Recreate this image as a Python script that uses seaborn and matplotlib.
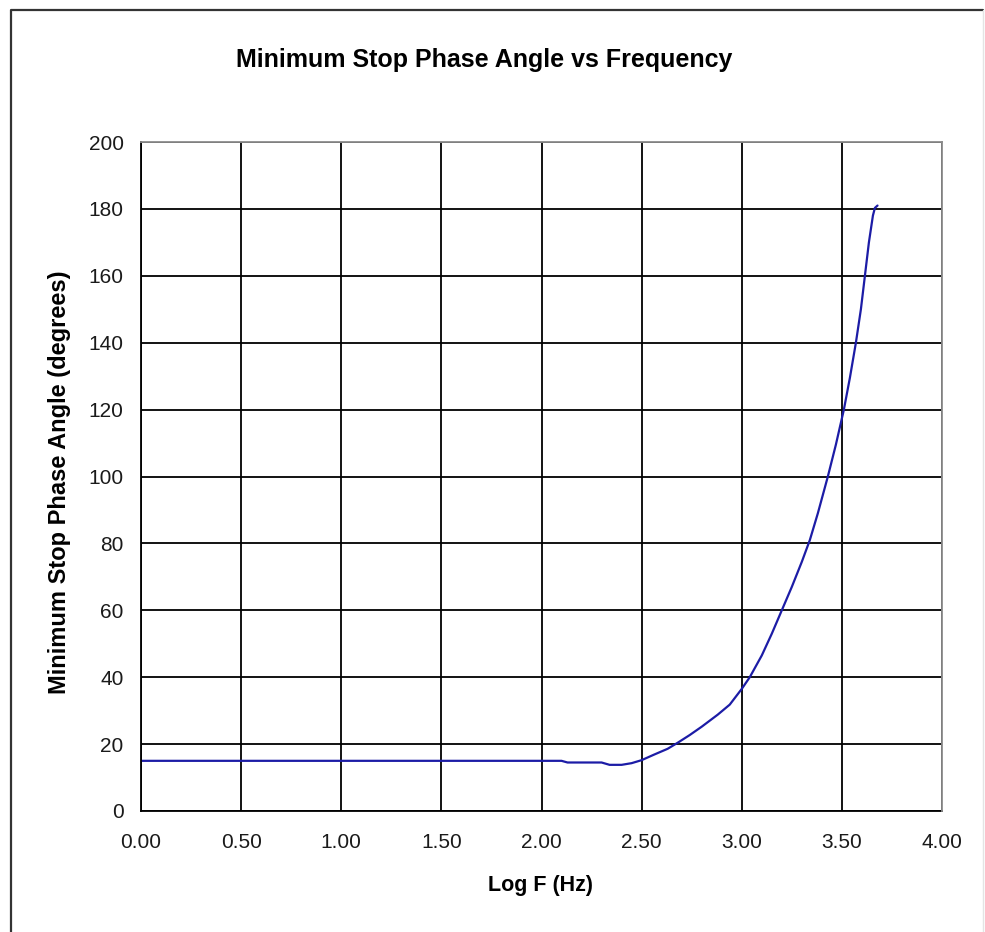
import matplotlib
matplotlib.use("Agg")
import matplotlib.pyplot as plt
from matplotlib.lines import Line2D
import seaborn as sns
import pandas as pd

# Log10 of frequency (Hz) and the minimum stop phase angle (degrees)
log_f = [0.00, 0.50, 1.00, 1.50, 2.00, 2.10, 2.13, 2.30, 2.34, 2.40, 2.45,
         2.50, 2.56, 2.63, 2.68, 2.74, 2.80, 2.88, 2.94, 3.00, 3.04, 3.10,
         3.15, 3.20, 3.25, 3.30, 3.34, 3.38, 3.43, 3.47, 3.51, 3.54, 3.57,
         3.595, 3.615, 3.635, 3.655, 3.665, 3.678]
phase_deg = [15.0, 15.0, 15.0, 15.0, 15.0, 15.0, 14.5, 14.5, 13.8, 13.8, 14.3,
             15.2, 16.8, 18.6, 20.4, 22.7, 25.2, 28.8, 31.8, 36.5, 40.0, 46.5,
             53.0, 60.0, 67.0, 74.5, 81.0, 89.0, 100.0, 109.5, 120.0, 129.5, 140.0,
             150.0, 160.0, 170.0, 178.0, 180.3, 181.0]

x_ticks = [0.0, 0.5, 1.0, 1.5, 2.0, 2.5, 3.0, 3.5, 4.0]
y_ticks = [0, 20, 40, 60, 80, 100, 120, 140, 160, 180, 200]

title = "Minimum Stop Phase Angle vs Frequency"
x_label = "Log F (Hz)"
y_label = "Minimum Stop Phase Angle (degrees)"

df = pd.DataFrame({"log_f": log_f, "phase": phase_deg})

sns.set_style("white")
plt.rcParams["font.family"] = ["Liberation Sans", "DejaVu Sans"]

W, H = 985, 932
fig = plt.figure(figsize=(W / 100, H / 100), dpi=100)
fig.patch.set_facecolor("white")

# plot area in pixel coordinates
left, right, top, bottom = 141, 942, 142, 811
ax = fig.add_axes([left / W, 1 - bottom / H, (right - left) / W, (bottom - top) / H])

sns.lineplot(data=df, x="log_f", y="phase", ax=ax, color="#1c1ca6",
             linewidth=1.6, sort=False, estimator=None)

ax.set_xlim(0, 4)
ax.set_ylim(0, 200)
ax.set_xticks(x_ticks)
ax.set_yticks(y_ticks)
ax.set_xticklabels([f"{t:.2f}" for t in x_ticks])
ax.set_yticklabels([str(t) for t in y_ticks])

ax.grid(True, color="black", linewidth=1.3)
ax.set_axisbelow(True)

for side in ("left", "bottom"):
    ax.spines[side].set_color("black")
    ax.spines[side].set_linewidth(1.3)
for side in ("top", "right"):
    ax.spines[side].set_visible(True)
    ax.spines[side].set_color("#8c8c8c")
    ax.spines[side].set_linewidth(1.3)
    ax.spines[side].set_zorder(3)

ax.tick_params(axis="both", which="major", direction="out", length=4.5,
               width=1.3, color="black", labelsize=15, labelcolor="#1a1a1a")
ax.tick_params(axis="x", pad=11, top=False)
ax.tick_params(axis="y", pad=8, right=False)

ax.set_xlabel("")
ax.set_ylabel("")

fig.text(484 / W, 1 - 60 / H, title, ha="center", va="center",
         fontsize=18, fontweight="bold", color="black")
fig.text(541 / W, 1 - 886 / H, x_label, ha="center", va="center",
         fontsize=15.5, fontweight="bold", color="black")
fig.text(60 / W, 1 - 482 / H, y_label, ha="center", va="center",
         rotation=90, fontsize=17, fontweight="bold", color="black")

# chart frame: dark left and top edges, faint right edge
fig.add_artist(Line2D([11 / W, 11 / W, 983 / W], [0, 1 - 10 / H, 1 - 10 / H],
                      transform=fig.transFigure, color="#333333", linewidth=1.6))
fig.add_artist(Line2D([983 / W, 983 / W], [0, 1 - 10 / H],
                      transform=fig.transFigure, color="#e4e4e4", linewidth=1.0))

fig.savefig("out.png", dpi=100, facecolor="white")
